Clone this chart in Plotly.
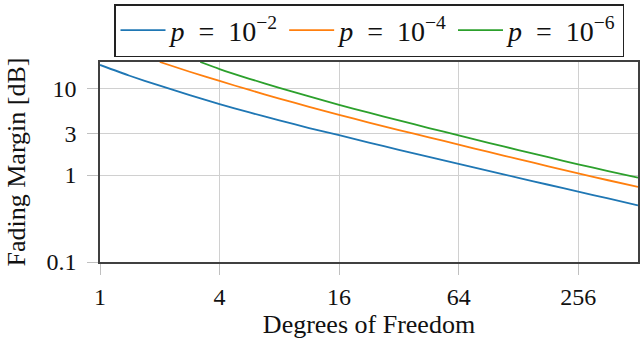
import plotly.graph_objects as go

# Degrees of freedom (x) and fading margin in dB (y)
dof_blue = [1, 1.41, 2, 2.83, 4, 5.66, 8, 11.3, 16, 22.6, 32, 45.3, 64, 90.5, 128, 181, 256, 362, 512]
fm_blue = [18.5, 13.9, 10.67, 8.32, 6.55, 5.25, 4.26, 3.48, 2.88, 2.366, 1.954, 1.618, 1.345, 1.117, 0.929, 0.774, 0.645, 0.538, 0.449]

dof_orange = [2, 2.83, 4, 5.66, 8, 11.3, 16, 22.6, 32, 45.3, 64, 90.5, 128, 181, 256, 362, 512]
fm_orange = [20.0, 15.45, 12.1, 9.53, 7.59, 6.10, 4.93, 4.02, 3.30, 2.72, 2.24, 1.848, 1.526, 1.262, 1.045, 0.872, 0.730]

dof_green = [3.2, 4, 5.66, 8, 11.3, 16, 22.6, 32, 45.3, 64, 90.5, 128, 181, 256, 362, 512]
fm_green = [20.0, 16.6, 12.82, 10.07, 8.02, 6.44, 5.22, 4.25, 3.48, 2.86, 2.353, 1.941, 1.605, 1.33, 1.114, 0.936]

series_names = ["<i>p</i>\u2002=\u200210<sup>−2</sup>", "<i>p</i>\u2002=\u200210<sup>−4</sup>", "<i>p</i>\u2002=\u200210<sup>−6</sup>"]
colors = ["#1f77b4", "#ff7f0e", "#2ca02c"]

x_ticks = [1, 4, 16, 64, 256]
y_ticks = [0.1, 1, 3, 10]
y_tick_text = ["0.1", "1", "3", "10"]

FONT = "Liberation Serif"

fig = go.Figure()
for xs, ys, name, c in zip([dof_blue, dof_orange, dof_green],
                           [fm_blue, fm_orange, fm_green], series_names, colors):
    fig.add_trace(go.Scatter(x=xs, y=ys, mode="lines", name=name,
                             line=dict(color=c, width=1.8, shape="spline", smoothing=0.6)))

axis_common = dict(
    type="log", showgrid=True, gridcolor="#d0d0d0", gridwidth=1,
    showline=True, linecolor="#404040", linewidth=1.5, mirror=True,
    ticks="outside", ticklen=11, tickcolor="#c0c0c0", tickwidth=1,
    tickfont=dict(family=FONT, size=24, color="#111"), zeroline=False,
    automargin=False,
)

fig.update_xaxes(**axis_common, range=[0, 2.70927], tickvals=x_ticks,
                 ticktext=[str(v) for v in x_ticks], ticklabelstandoff=1,
                 title=dict(text="Degrees of Freedom", font=dict(family=FONT, size=26, color="#111"), standoff=6))
fig.update_yaxes(**axis_common, range=[-1, 1.30103], tickvals=y_ticks,
                 ticktext=y_tick_text, ticklabelstandoff=6,
                 title=dict(text="Fading Margin [dB]", font=dict(family=FONT, size=26, color="#111"), standoff=13))

fig.update_layout(
    width=640, height=345,
    margin=dict(l=100, r=2, t=62, b=83),
    paper_bgcolor="white", plot_bgcolor="white",
    font=dict(family=FONT, size=24, color="#111"),
    showlegend=True,
    legend=dict(orientation="h", x=0.5, xanchor="center", y=1.29, yanchor="top",
                bordercolor="#222", borderwidth=1.5, bgcolor="white",
                font=dict(family=FONT, size=28, color="#111"),
                itemwidth=45, tracegroupgap=0),
)

fig.write_html("out.html", config={"displayModeBar": False},
               post_script="document.body.style.margin='0';document.body.style.overflow='hidden';")
